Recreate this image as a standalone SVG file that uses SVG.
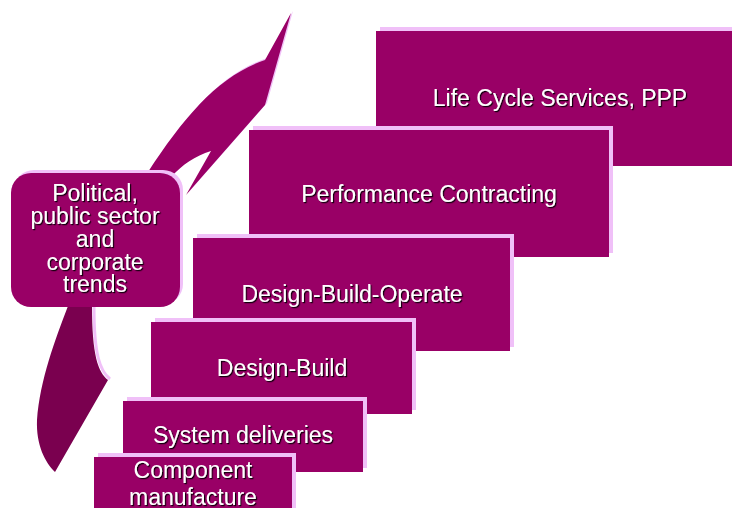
<svg xmlns="http://www.w3.org/2000/svg" width="732" height="508" viewBox="0 0 732 508">
<defs>
<filter id="ts" x="-10%" y="-20%" width="120%" height="140%">
<feDropShadow dx="1.2" dy="1.2" stdDeviation="0.3" flood-color="#000" flood-opacity="0.9"/>
</filter>
<style>
.box{fill:#990066}
.hl{fill:#F0C0F8}
.t{fill:#fff;font-family:"Liberation Sans",Arial,sans-serif;font-size:23px;text-anchor:middle;filter:url(#ts)}
</style>
</defs>
<rect width="732" height="508" fill="#fff"/>
<g id="connectors">
<path class="hl" transform="translate(2,-2)" d="M148,172 C185,115 220,75 265,60 L291,13 L265,105 L186,195 L211,151 C195,156 182,165 172,176 Z"/>
<path class="box" d="M148,172 C185,115 220,75 265,60 L291,13 L265,105 L186,195 L211,151 C195,156 182,165 172,176 Z"/>
<path d="M94,307 C94,355 100,371 110,379" fill="none" stroke="#F0C0F8" stroke-width="3"/>
<path fill="#7A004F" d="M68,306 C55,340 40,380 37,420 C36,445 45,462 55,472 L108,380 C98,372 92,355 92,306 Z"/>
</g>
<g id="trends">
<rect class="hl" x="14" y="170" width="169" height="134" rx="20"/>
<rect class="box" x="11" y="173" width="169" height="134" rx="20"/>
<text class="t" x="95" y="201">Political,</text>
<text class="t" x="95" y="224">public sector</text>
<text class="t" x="95" y="247">and</text>
<text class="t" x="95" y="270">corporate</text>
<text class="t" x="95" y="292">trends</text>
</g>
<g id="lifecycle">
<rect class="hl" x="380" y="27" width="352" height="135"/>
<rect class="box" x="376" y="31" width="356" height="135"/>
<text class="t" x="560" y="106">Life Cycle Services, PPP</text>
</g>
<g id="performance">
<rect class="hl" x="253" y="126" width="360" height="127"/>
<rect class="box" x="249" y="130" width="360" height="127"/>
<text class="t" x="429" y="202">Performance Contracting</text>
</g>
<g id="dbo">
<rect class="hl" x="197" y="234" width="317" height="113"/>
<rect class="box" x="193" y="238" width="317" height="113"/>
<text class="t" x="352" y="302">Design-Build-Operate</text>
</g>
<g id="db">
<rect class="hl" x="155" y="318" width="261" height="92"/>
<rect class="box" x="151" y="322" width="261" height="92"/>
<text class="t" x="282" y="376">Design-Build</text>
</g>
<g id="system">
<rect class="hl" x="127" y="397" width="240" height="71"/>
<rect class="box" x="123" y="401" width="240" height="71"/>
<text class="t" x="243" y="443">System deliveries</text>
</g>
<g id="component">
<rect class="hl" x="98" y="453" width="198" height="60"/>
<rect class="box" x="94" y="457" width="198" height="60"/>
<text class="t" x="193" y="478">Component</text>
<text class="t" x="193" y="505">manufacture</text>
</g>
</svg>
